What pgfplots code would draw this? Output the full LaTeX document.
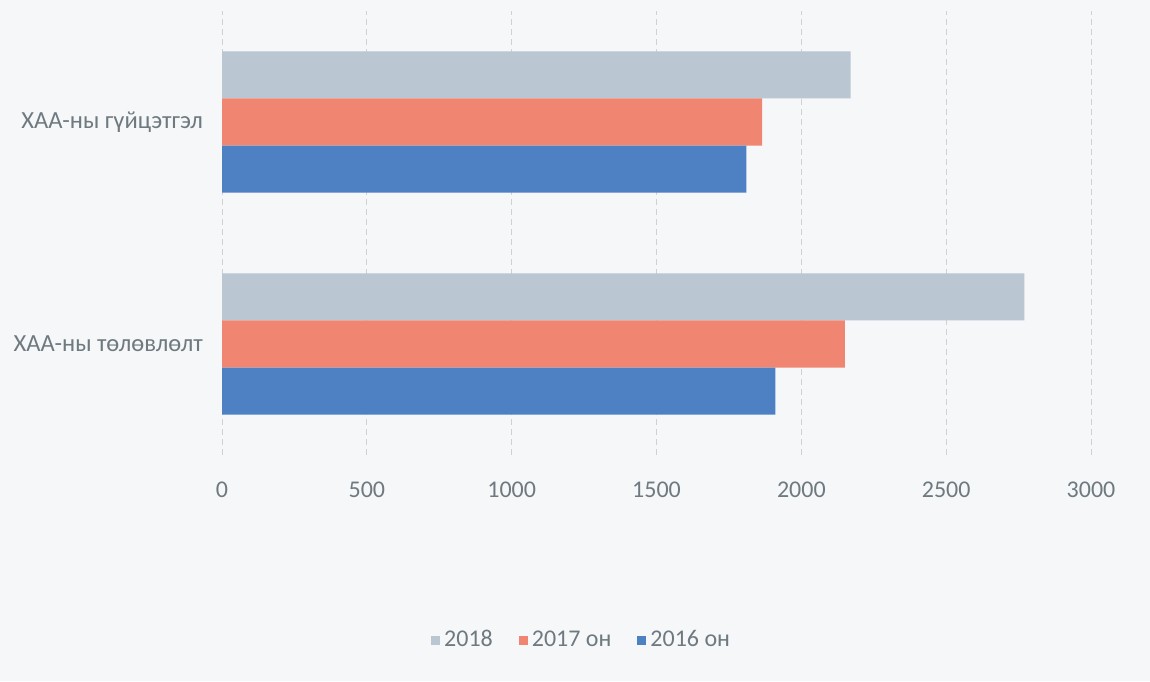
\documentclass[border=0pt]{standalone}
\usepackage{pgfplots}
\pgfplotsset{compat=1.18}
\usepackage{fontspec}
\setmainfont{Carlito}
\definecolor{txt}{RGB}{110,122,128}
\definecolor{bgc}{RGB}{246,247,249}
\definecolor{cA}{RGB}{186,198,210}
\definecolor{cB}{RGB}{240,134,114}
\definecolor{cC}{RGB}{78,128,196}
\begin{document}
\begin{tikzpicture}[x=1pt,y=1pt]
\fill[bgc] (0,0) rectangle (575,340.5);
\begin{axis}[at={(111pt,113pt)}, anchor=south west, scale only axis,
  width=434.5pt, height=222pt,
  xbar, xmin=0, xmax=3000, ymin=-0.5, ymax=1.5,
  ytick={0,1}, yticklabels={ХАА-ны төлөвлөлт, ХАА-ны гүйцэтгэл},
  xtick={0,500,...,3000},
  xmajorgrids, grid style={densely dashed, black!18, line width=0.4pt},
  axis line style={draw=none}, major tick length=0pt,
  bar width=0.212,
  ticklabel style={font=\fontsize{12}{14}\selectfont, text=txt},
  yticklabel style={font=\fontsize{12.3}{14}\selectfont, xshift=-6pt},
  xticklabel style={yshift=-10pt},
  /pgf/number format/assume math mode=true,
  /pgf/number format/set thousands separator={},
  legend columns=3,
  legend style={at={(0.415,-0.417)}, anchor=center, draw=none, fill=none,
    font=\fontsize{12}{14}\selectfont, text=txt,
    /tikz/every even column/.append style={column sep=11pt}},
  legend image code/.code={\fill[#1] (0.5pt,-2.3pt) rectangle (5pt,2.3pt);},
]
\addplot[fill=cA, draw=none, bar shift=0.212] coordinates {(2770,0) (2170,1)};
\addlegendentry{2018}
\addplot[fill=cB, draw=none, bar shift=0] coordinates {(2150,0) (1865,1)};
\addlegendentry{2017 он}
\addplot[fill=cC, draw=none, bar shift=-0.212] coordinates {(1910,0) (1810,1)};
\addlegendentry{2016 он}
\end{axis}
\pgfresetboundingbox
\path (0,0) rectangle (575,340.5);
\end{tikzpicture}
\end{document}
